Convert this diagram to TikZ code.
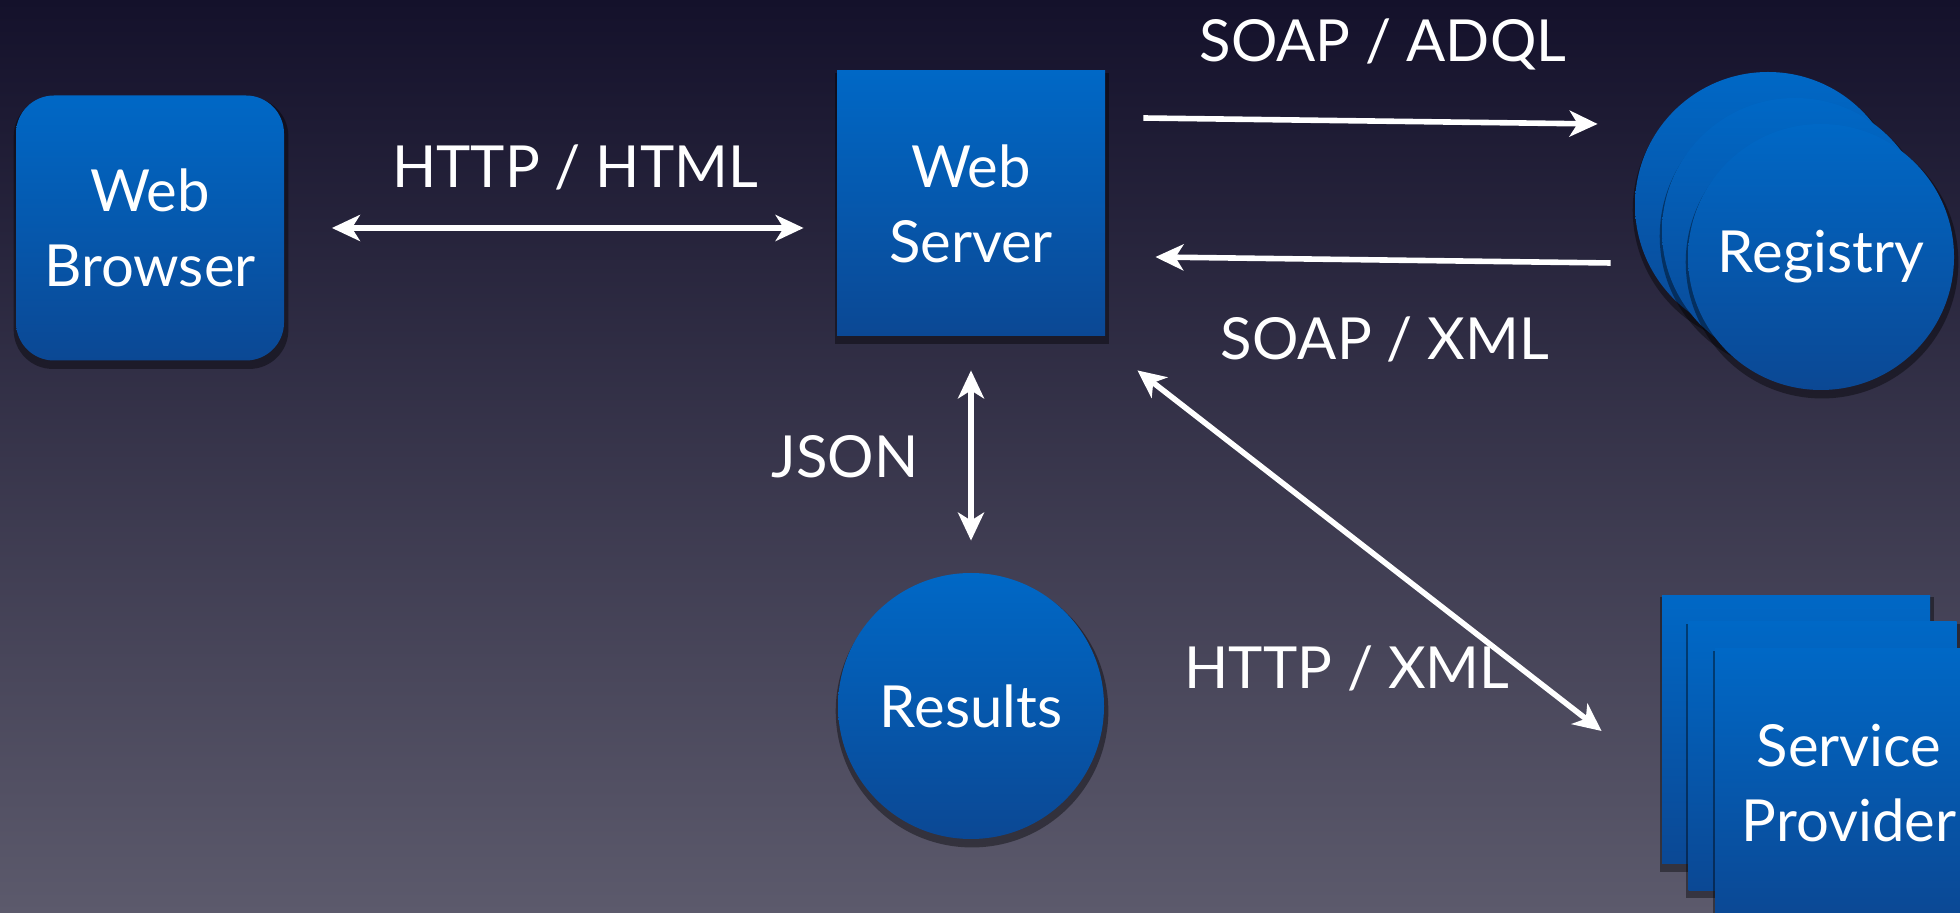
\documentclass[tikz,border=0pt]{standalone}
\usepackage{fontspec}
\setmainfont{Lato}
\usetikzlibrary{arrows.meta,shadows}
\definecolor{bgtop}{HTML}{14112B}
\definecolor{bgbot}{HTML}{5C5A6C}
\definecolor{boxtop}{HTML}{0068C6}
\definecolor{boxbot}{HTML}{0B4894}
\tikzset{
  unit/.style={text=white, top color=boxtop, bottom color=boxbot, inner sep=0pt, align=center,
               font=\fontsize{29}{37.5}\selectfont,
               drop shadow={fill=black, opacity=0.4, shadow scale=1.025, shadow xshift=0.5pt, shadow yshift=-2.5pt}},
  box/.style={unit, rectangle, minimum width=134pt, minimum height=132.5pt},
  disc/.style={unit, circle, minimum size=133pt},
  tip/.tip={Stealth[length=14pt, width=13pt, inset=4pt]},
  link/.style={white, line width=2.8pt, -tip},
  duplex/.style={link, tip-tip},
  tag/.style={white, anchor=base, font=\fontsize{29}{35}\selectfont}
}
\begin{document}
\begin{tikzpicture}[x=0.5pt, y=-0.5pt]
\useasboundingbox (0,0) rectangle (1960,913) ;
\clip (0,0) rectangle (1960,913) ;
\shade[top color=bgtop, bottom color=bgbot] (0,0) rectangle (1960,913) ;
\node[box, rounded corners=19pt] (browser) at (150,228) {Web\\Browser} ;
\node[box] (server) at (971,203.5) {Web\\Server} ;
\node[disc] (results) at (971,706) {Results} ;
  \node[disc] (reg1) at (1768,205) {} ;
  \node[disc] (reg2) at (1795,231) {} ;
  \node[disc] (reg3) at (1821,257) {Registry} ;
  \node[box, minimum height=134pt] (prov1) at (1796,729.5) {} ;
  \node[box, minimum height=134pt] (prov2) at (1822.5,756) {} ;
  \node[box, minimum height=134pt] (prov3) at (1849,783) {Service\\Provider} ;
\draw[duplex] ([shift={(47.5,0)}]browser.east) -- ([shift={(-33,24.5)}]server.west) ;
\draw[link] ([shift={(38,-85.5)}]server.east) -- ([shift={(-37,-81)}]reg1.west) ;
\draw[link] ([shift={(-24,58)}]reg1.west) -- ([shift={(50,53.5)}]server.east) ;
\draw[duplex] ([shift={(0,34)}]server.south) -- ([shift={(0,-32)}]results.north) ;
\draw[duplex] ([shift={(32,34)}]server.south east) -- ([shift={(-60,1.5)}]prov1.west) ;
\node[tag] (lhtml) at (575,188) {HTTP / HTML} ;
\node[tag] (ladql) at (1383,62) {SOAP / ADQL} ;
\node[tag] (lsxml) at (1385,360) {SOAP / XML} ;
\node[tag] (ljson) at (845,478) {JSON} ;
\node[tag] (lhxml) at (1347,689) {HTTP / XML} ;
\end{tikzpicture}
\end{document}
